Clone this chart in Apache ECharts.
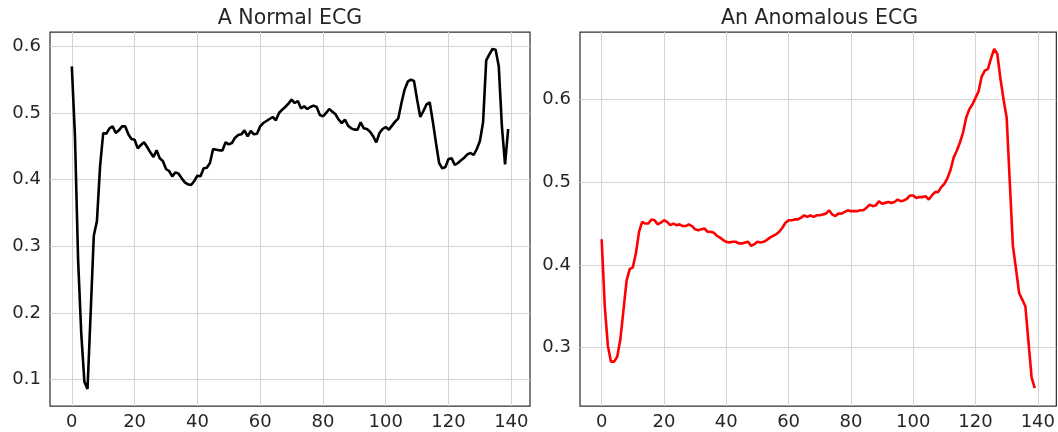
<!DOCTYPE html>
<html>
<head>
<meta charset="utf-8">
<script src="https://cdn.jsdelivr.net/npm/echarts@6/dist/echarts.min.js"></script>
<style>html,body{margin:0;padding:0;background:#fff;}#c{width:1058px;height:432px;}</style>
</head>
<body>
<div id="c"></div>
<script>
const titles = ['A Normal ECG', 'An Anomalous ECG'];
const xTicks = [0, 20, 40, 60, 80, 100, 120, 140];
const yTicksNormal = [0.1, 0.2, 0.3, 0.4, 0.5, 0.6];
const yTicksAnomalous = [0.3, 0.4, 0.5, 0.6];

const normal = [
0.570,0.465,0.280,0.170,0.097,0.086,0.200,0.316,0.338,0.420,
0.470,0.469,0.477,0.480,0.470,0.474,0.480,0.480,0.468,0.461,
0.460,0.447,0.452,0.456,0.449,0.441,0.434,0.444,0.432,0.428,
0.416,0.413,0.405,0.411,0.409,0.402,0.396,0.393,0.392,0.398,
0.406,0.405,0.417,0.418,0.425,0.446,0.445,0.444,0.444,0.456,
0.453,0.455,0.463,0.467,0.468,0.474,0.465,0.473,0.468,0.469,
0.480,0.485,0.488,0.491,0.494,0.489,0.500,0.505,0.509,0.514,
0.520,0.515,0.518,0.507,0.510,0.506,0.509,0.511,0.509,0.497,
0.495,0.500,0.506,0.502,0.498,0.490,0.485,0.490,0.481,0.477,
0.475,0.475,0.486,0.477,0.476,0.472,0.465,0.456,0.470,0.476,
0.479,0.475,0.481,0.487,0.492,0.515,0.535,0.547,0.550,0.548,
0.520,0.494,0.503,0.513,0.516,0.487,0.455,0.425,0.417,0.419,
0.431,0.432,0.422,0.425,0.429,0.433,0.438,0.440,0.437,0.446,
0.458,0.486,0.579,0.588,0.596,0.595,0.570,0.480,0.423,0.476
];

const anomalous = [
0.431,0.350,0.302,0.283,0.283,0.289,0.310,0.345,0.381,0.395,
0.397,0.414,0.440,0.452,0.450,0.450,0.455,0.454,0.449,0.451,
0.454,0.452,0.448,0.450,0.448,0.449,0.447,0.447,0.449,0.447,
0.443,0.442,0.443,0.444,0.440,0.440,0.439,0.435,0.433,0.430,
0.428,0.427,0.428,0.428,0.426,0.426,0.427,0.428,0.423,0.425,
0.428,0.427,0.428,0.430,0.433,0.435,0.437,0.440,0.445,0.451,
0.454,0.454,0.455,0.455,0.457,0.460,0.458,0.460,0.458,0.460,
0.460,0.461,0.462,0.466,0.461,0.459,0.462,0.462,0.464,0.466,
0.465,0.465,0.465,0.466,0.466,0.469,0.473,0.471,0.472,0.477,
0.474,0.475,0.476,0.475,0.476,0.479,0.477,0.478,0.480,0.484,
0.484,0.481,0.482,0.482,0.483,0.479,0.484,0.488,0.488,0.494,
0.498,0.505,0.515,0.530,0.538,0.548,0.560,0.578,0.588,0.594,
0.602,0.610,0.628,0.635,0.637,0.650,0.661,0.655,0.625,0.600,
0.578,0.500,0.423,0.395,0.366,0.358,0.350,0.307,0.264,0.251
];

const FONT = 'DejaVu Sans';
const TXT = '#262626';
const GRIDC = '#d4d4d4';
const SPINE = '#333333';

function pairs(arr) { return arr.map((v, i) => [i, v]); }

function xAxis(gi) {
  return {
    type: 'value', gridIndex: gi, min: -6.95, max: 145.95,
    axisLine: {show: false},
    axisTick: {show: false, customValues: xTicks},
    axisLabel: {customValues: xTicks, color: TXT, fontSize: 18, fontFamily: FONT, margin: 7},
    splitLine: {show: true, lineStyle: {color: GRIDC, width: 1}}
  };
}
function yAxis(gi, ticks, mn, mx) {
  return {
    type: 'value', gridIndex: gi, min: mn, max: mx,
    axisLine: {show: false},
    axisTick: {show: false, customValues: ticks},
    axisLabel: {customValues: ticks, color: TXT, fontSize: 18, fontFamily: FONT, margin: 9,
      formatter: v => v.toFixed(1)},
    splitLine: {show: true, lineStyle: {color: GRIDC, width: 1}}
  };
}

const chart = echarts.init(document.getElementById('c'), null, {renderer: 'canvas'});
chart.setOption({
  animation: false,
  backgroundColor: '#ffffff',
  title: [
    {text: titles[0], left: 290, top: 8, textAlign: 'center', padding: 0,
     textStyle: {fontFamily: FONT, fontSize: 20.5, fontWeight: 'normal', color: TXT}},
    {text: titles[1], left: 819.5, top: 8, textAlign: 'center', padding: 0,
     textStyle: {fontFamily: FONT, fontSize: 20.5, fontWeight: 'normal', color: TXT}}
  ],
  grid: [
    {left: 50, top: 32, width: 480, height: 374, show: true, borderColor: SPINE, borderWidth: 1.25, containLabel: false},
    {left: 580, top: 32, width: 479, height: 374, show: true, borderColor: SPINE, borderWidth: 1.25, containLabel: false}
  ],
  xAxis: [xAxis(0), xAxis(1)],
  yAxis: [
    yAxis(0, yTicksNormal, 0.0605, 0.6215),
    yAxis(1, yTicksAnomalous, 0.2294, 0.6816)
  ],
  series: [
    {type: 'line', xAxisIndex: 0, yAxisIndex: 0, data: pairs(normal), showSymbol: false,
     lineStyle: {color: '#000000', width: 2.6}, itemStyle: {color: '#000000'}, silent: true},
    {type: 'line', xAxisIndex: 1, yAxisIndex: 1, data: pairs(anomalous), showSymbol: false,
     lineStyle: {color: '#ff0000', width: 2.6}, itemStyle: {color: '#ff0000'}, silent: true}
  ]
});
</script>
</body>
</html>
